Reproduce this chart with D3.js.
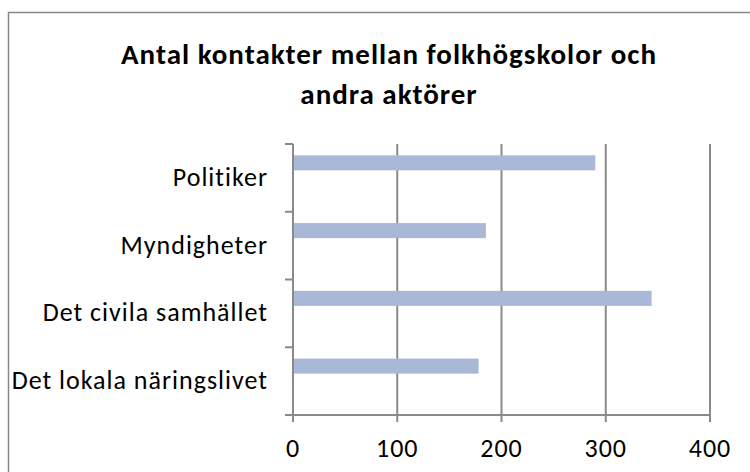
<!DOCTYPE html>
<meta charset="utf-8">
<style>
body { margin: 0; background: #fff; }
svg { display: block; }
.title { font-family: Carlito, Lato, "Open Sans", sans-serif; font-weight: bold; font-size: 29px; letter-spacing: 1px; fill: #000; }
.cat, .tick-label { font-family: Carlito, Lato, "Open Sans", sans-serif; font-size: 26px; letter-spacing: 1px; fill: #000; }
.bar { fill: #a9b8d7; }
.grid line, .axis-line { stroke: #8a8a8a; stroke-width: 2px; }
</style>
<svg width="750" height="472"></svg>
<script src="https://d3js.org/d3.v7.min.js"></script>
<script>

// categories, top to bottom
var categories = ["Politiker", "Myndigheter", "Det civila samhället", "Det lokala näringslivet"];
var values = [290, 185, 344, 178];
var xTicks = [0, 100, 200, 300, 400];
// Excel placed the bar in the first of three series slots
var slots = ["s1", "s2", "s3"];
var titleLines = ["Antal kontakter mellan folkhögskolor och", "andra aktörer"];

var svg = d3.select("svg"),
    margin = {top: 144, right: 40, bottom: 57, left: 293},
    width = 710 - margin.left,
    height = 415 - margin.top;

// chart frame (runs past the right and bottom edges)
svg.append("rect")
    .attr("x", 8.5).attr("y", 12.5)
    .attr("width", 800).attr("height", 500)
    .attr("fill", "none")
    .attr("stroke", "#888")
    .attr("stroke-width", 1.5);

svg.selectAll(".title")
    .data(titleLines)
  .enter().append("text")
    .attr("class", "title")
    .attr("x", 389)
    .attr("y", function(d, i) { return 63.5 + i * 40; })
    .attr("text-anchor", "middle")
    .text(function(d) { return d; });

var x = d3.scaleLinear().domain([0, 400]).range([0, width]);
var y = d3.scaleBand().domain(categories).range([0, height]).padding(0);
var inner = d3.scaleBand().domain(slots).range([0, y.bandwidth()]).paddingOuter(0.755).paddingInner(0);

var g = svg.append("g")
    .attr("transform", "translate(" + margin.left + "," + margin.top + ")");

// vertical gridlines
g.append("g")
    .attr("class", "grid")
  .selectAll("line")
  .data(xTicks.slice(1))
  .enter().append("line")
    .attr("x1", x).attr("x2", x)
    .attr("y1", 0).attr("y2", height);

g.selectAll(".bar")
    .data(categories)
  .enter().append("rect")
    .attr("class", "bar")
    .attr("x", 1)
    .attr("y", function(d) { return y(d) + inner("s1"); })
    .attr("width", function(d, i) { return x(values[i]) - 1; })
    .attr("height", inner.bandwidth());

// y axis line + ticks at category boundaries
g.append("line").attr("class", "axis-line")
    .attr("x1", 0).attr("x2", 0).attr("y1", 0).attr("y2", height);
var bounds = categories.map(function(d) { return y(d); }).concat([height]);
g.selectAll(".ytick")
    .data(bounds)
  .enter().append("line")
    .attr("class", "axis-line ytick")
    .attr("x1", -8).attr("x2", 0)
    .attr("y1", function(d) { return d; }).attr("y2", function(d) { return d; });

// x axis line + ticks
g.append("line").attr("class", "axis-line")
    .attr("x1", -8).attr("x2", width).attr("y1", height).attr("y2", height);
g.selectAll(".xtick")
    .data(xTicks)
  .enter().append("line")
    .attr("class", "axis-line xtick")
    .attr("x1", x).attr("x2", x)
    .attr("y1", height).attr("y2", height + 7);

g.selectAll(".tick-label")
    .data(xTicks)
  .enter().append("text")
    .attr("class", "tick-label")
    .attr("x", x)
    .attr("y", height + 42)
    .attr("text-anchor", "middle")
    .text(function(d) { return d; });

g.selectAll(".cat")
    .data(categories)
  .enter().append("text")
    .attr("class", "cat")
    .attr("x", -25)
    .attr("y", function(d) { return y(d) + y.bandwidth() / 2 + 8; })
    .attr("text-anchor", "end")
    .text(function(d) { return d; });

</script>
